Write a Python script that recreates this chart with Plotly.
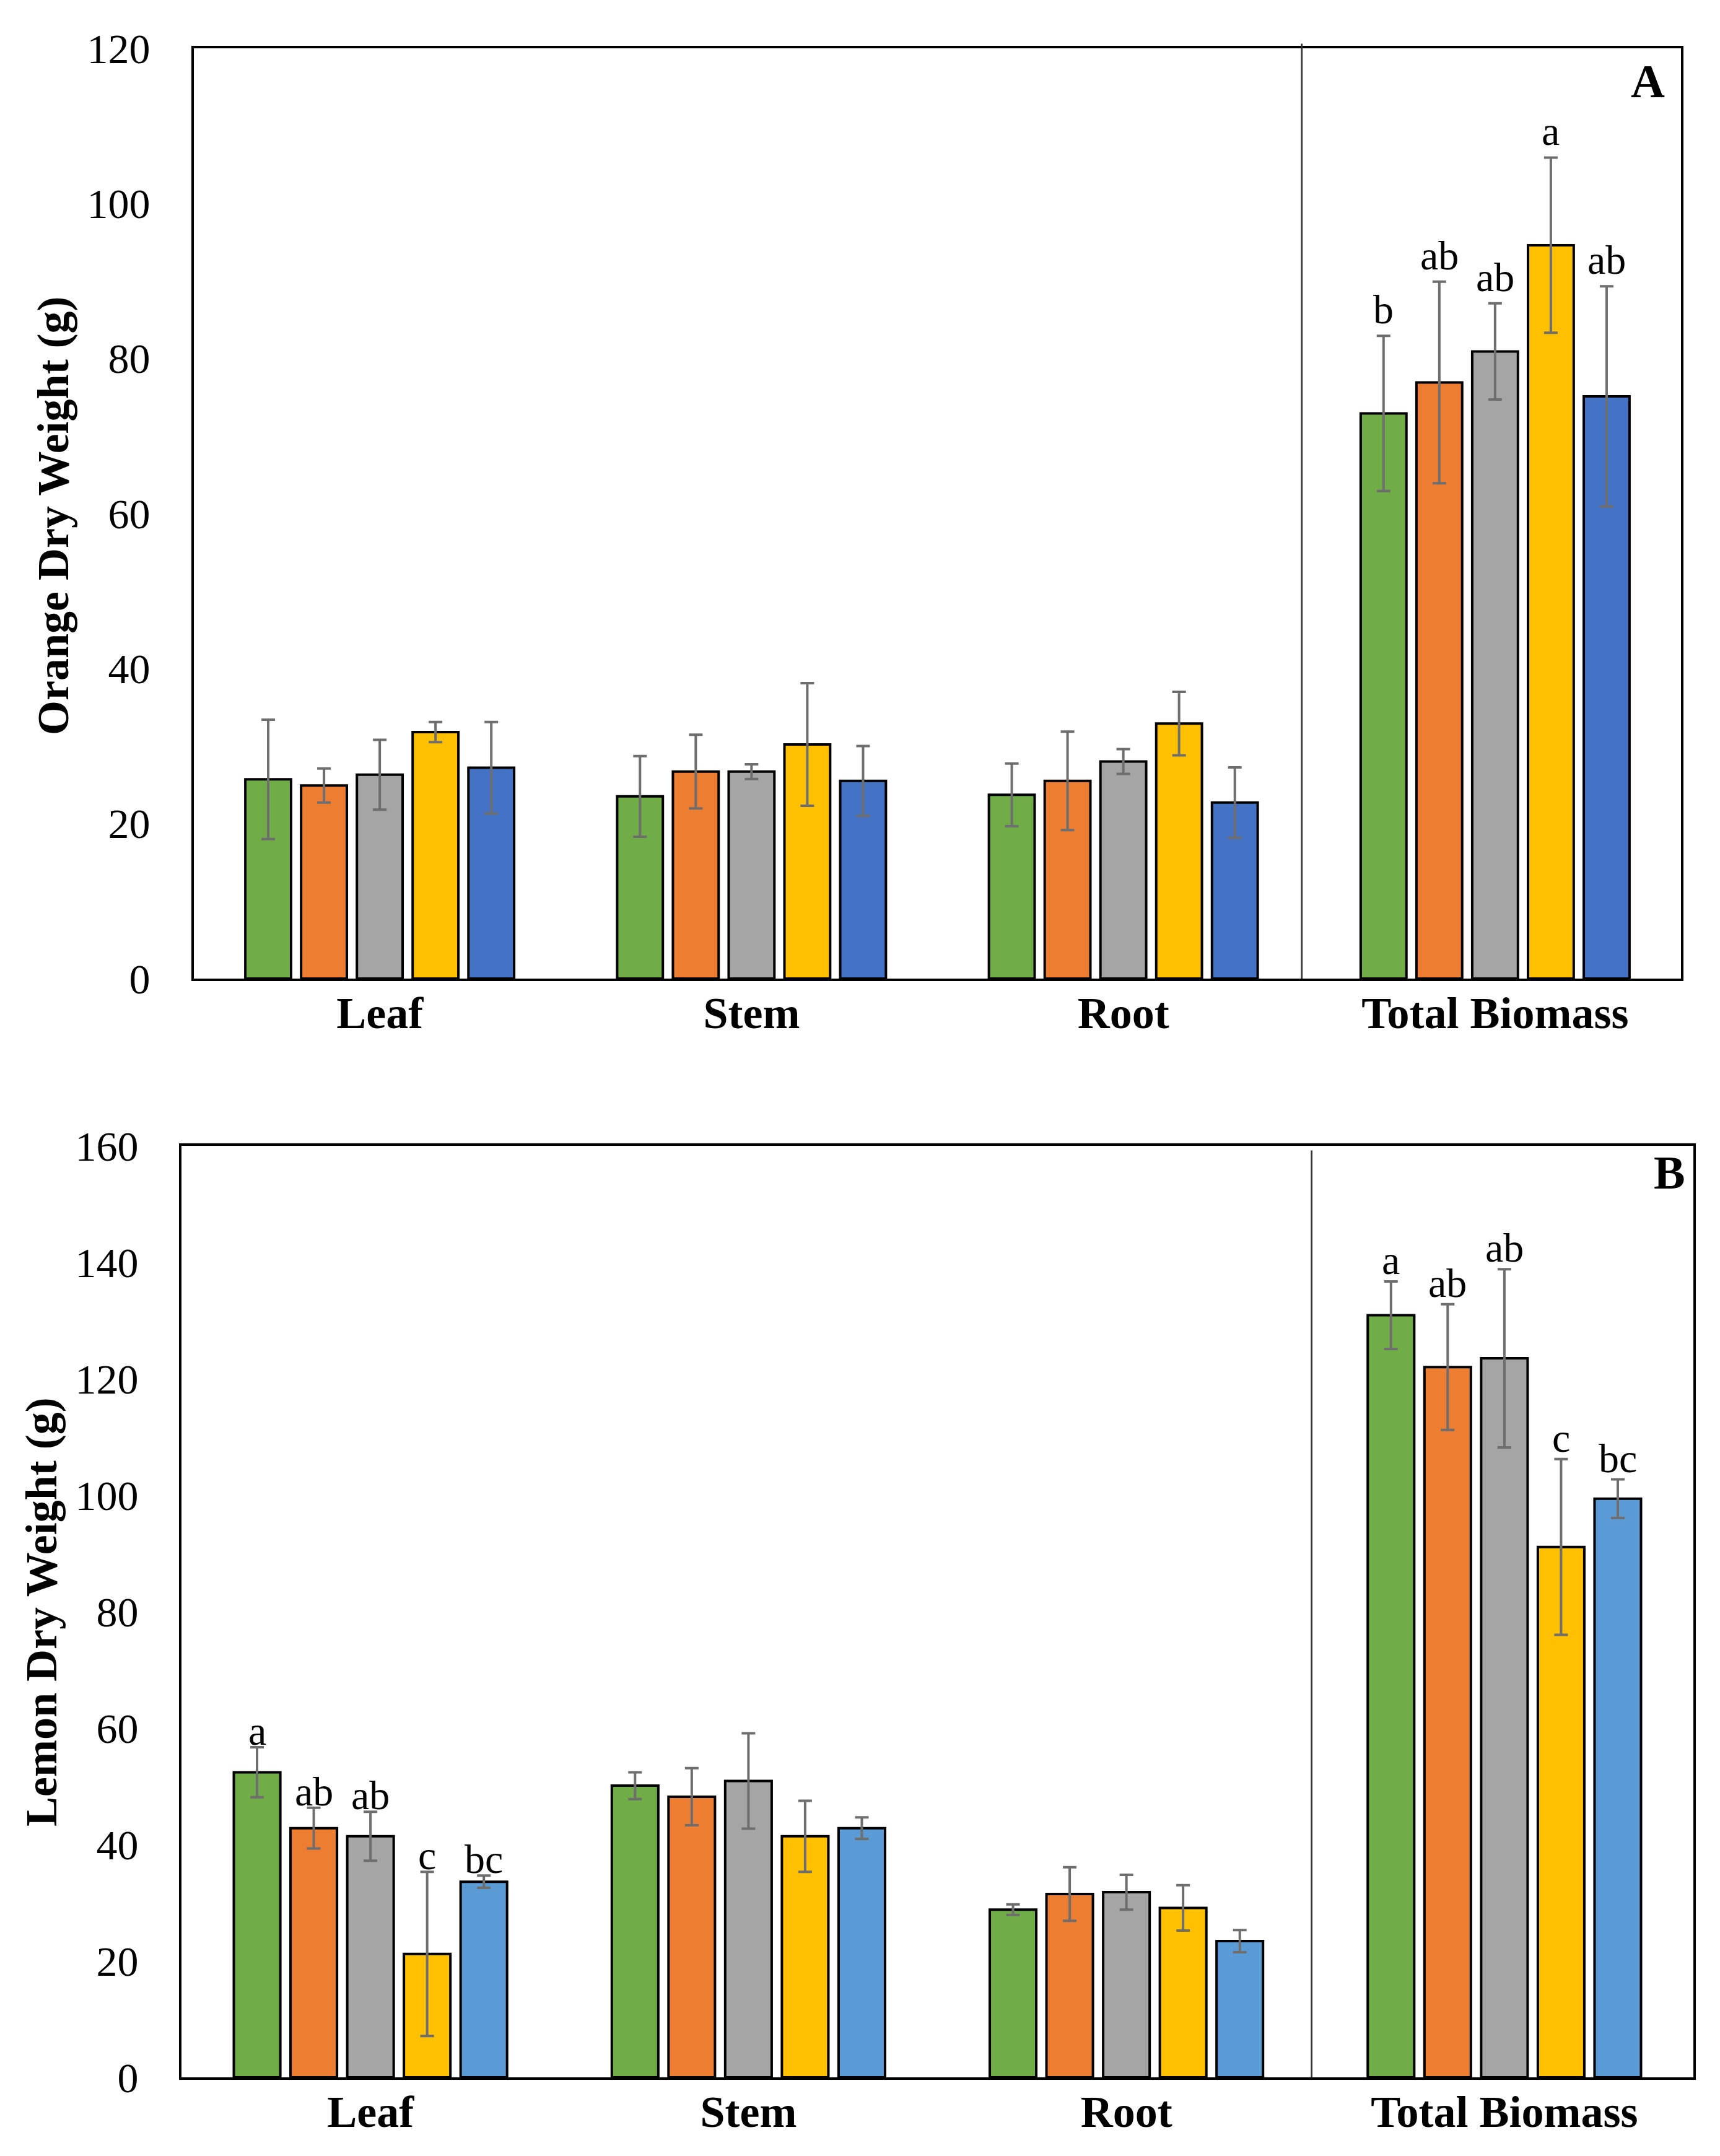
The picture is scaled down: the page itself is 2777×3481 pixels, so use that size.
import plotly.graph_objects as go

# ---------------- data ----------------
categories = ["Leaf", "Stem", "Root", "Total Biomass"]
treatments = ["Treatment 1", "Treatment 2", "Treatment 3", "Treatment 4", "Treatment 5"]

# Panel A: Orange dry weight (g)
orange_t1 = [25.7, 23.5, 23.7, 72.9]
orange_t2 = [24.9, 26.7, 25.5, 76.9]
orange_t3 = [26.3, 26.7, 28.0, 80.9]
orange_t4 = [31.8, 30.2, 32.9, 94.6]
orange_t5 = [27.2, 25.5, 22.7, 75.1]
orange_t1_err = [7.7, 5.2, 4.05, 10.0]
orange_t2_err = [2.2, 4.75, 6.35, 13.0]
orange_t3_err = [4.5, 0.95, 1.6, 6.2]
orange_t4_err = [1.3, 7.9, 4.1, 11.3]
orange_t5_err = [5.9, 4.5, 4.55, 14.2]
orange_letters_total = ["b", "ab", "ab", "a", "ab"]

# Panel B: Lemon dry weight (g)
lemon_t1 = [52.4, 50.1, 28.8, 130.9]
lemon_t2 = [42.8, 48.2, 31.5, 122.0]
lemon_t3 = [41.4, 50.9, 31.8, 123.5]
lemon_t4 = [21.2, 41.4, 29.1, 91.1]
lemon_t5 = [33.6, 42.8, 23.4, 99.4]
lemon_t1_err = [4.3, 2.3, 0.9, 5.8]
lemon_t2_err = [3.5, 4.9, 4.6, 10.8]
lemon_t3_err = [4.2, 8.2, 3.0, 15.3]
lemon_t4_err = [14.1, 6.1, 3.9, 15.1]
lemon_t5_err = [1.05, 1.85, 1.9, 3.3]
lemon_letters_leaf = ["a", "ab", "ab", "c", "bc"]
lemon_letters_total = ["a", "ab", "ab", "c", "bc"]

# ---------------- styles / layout geometry ----------------
PAGE_W, PAGE_H = 2777, 3481
BODY = 8                       # default html body margin
W, H = PAGE_W - 2 * BODY, PAGE_H - 2 * BODY

def px(X):   # page x (px) -> paper fraction
    return (X - BODY) / W

def py(Y):   # page y from top (px) -> paper fraction
    return 1 - (Y - BODY) / H

colors_a = ["#70AD47", "#ED7D31", "#A5A5A5", "#FFC000", "#4472C4"]
colors_b = ["#70AD47", "#ED7D31", "#A5A5A5", "#FFC000", "#5B9BD5"]
FONT = "Liberation Serif"
BARGAP = 0.25
BARGROUPGAP = 0.18
ERR_COLOR = "#6E6E6E"

fig = go.Figure()

def add_panel(vals, errs, colors, xa, ya):
    for name, v, e, c in zip(treatments, vals, errs, colors):
        fig.add_trace(go.Bar(
            x=categories, y=v, name=name, xaxis=xa, yaxis=ya,
            marker=dict(color=c, line=dict(color="black", width=4)),
            error_y=dict(type="data", array=e, visible=True, color=ERR_COLOR,
                         thickness=4, width=11),
            showlegend=False,
        ))

o_vals = [orange_t1, orange_t2, orange_t3, orange_t4, orange_t5]
o_errs = [orange_t1_err, orange_t2_err, orange_t3_err, orange_t4_err, orange_t5_err]
l_vals = [lemon_t1, lemon_t2, lemon_t3, lemon_t4, lemon_t5]
l_errs = [lemon_t1_err, lemon_t2_err, lemon_t3_err, lemon_t4_err, lemon_t5_err]

add_panel(o_vals, o_errs, colors_a, "x", "y")
add_panel(l_vals, l_errs, colors_b, "x2", "y2")

# significance letters
slot = (1 - BARGAP) / len(treatments)
offsets = [(i - (len(treatments) - 1) / 2) * slot for i in range(len(treatments))]

def add_letters(letters, cat_idx, vals, errs, xref, yref, yshift):
    for i, lt in enumerate(letters):
        top = vals[i][cat_idx] + errs[i][cat_idx]
        fig.add_annotation(x=cat_idx + offsets[i], y=top, xref=xref, yref=yref,
                           text=lt, showarrow=False, yanchor="bottom", xanchor="center",
                           yshift=yshift, font=dict(family=FONT, size=66, color="black"))

add_letters(orange_letters_total, 3, o_vals, o_errs, "x", "y", 4)
add_letters(lemon_letters_leaf, 0, l_vals, l_errs, "x2", "y2", -12)
add_letters(lemon_letters_total, 3, l_vals, l_errs, "x2", "y2", -4)

# panel letters
fig.add_annotation(x=px(2660), y=py(131), xref="paper", yref="paper", text="<b>A</b>",
                   showarrow=False, xanchor="center", yanchor="middle",
                   font=dict(family=FONT, size=76, color="black"))
fig.add_annotation(x=px(2695), y=py(1893), xref="paper", yref="paper", text="<b>B</b>",
                   showarrow=False, xanchor="center", yanchor="middle",
                   font=dict(family=FONT, size=76, color="black"))

# y-axis titles
fig.add_annotation(x=px(86), y=py(833), xref="paper", yref="paper",
                   text="<b>Orange Dry Weight (g)</b>", textangle=-90, showarrow=False,
                   xanchor="center", yanchor="middle",
                   font=dict(family=FONT, size=72, color="black"))
fig.add_annotation(x=px(67), y=py(2603), xref="paper", yref="paper",
                   text="<b>Lemon Dry Weight (g)</b>", textangle=-90, showarrow=False,
                   xanchor="center", yanchor="middle",
                   font=dict(family=FONT, size=72, color="black"))

# divider lines between plant parts and total biomass
fig.add_shape(type="line", xref="x", yref="y domain", x0=2.48, x1=2.48, y0=0, y1=1.005,
              line=dict(color="#333333", width=2.7))
fig.add_shape(type="line", xref="x2", yref="y2 domain", x0=2.49, x1=2.49, y0=0, y1=0.995,
              line=dict(color="#333333", width=2.7))

xaxis_common = dict(type="category", showline=True, linecolor="black", linewidth=4,
                    mirror=True, ticks="", showgrid=False, zeroline=False, automargin=False,
                    tickfont=dict(family=FONT, size=72, color="black"),
                    ticklabelstandoff=-10)
yaxis_common = dict(showline=True, linecolor="black", linewidth=4, mirror=True,
                    ticks="", showgrid=False, zeroline=False, dtick=20, automargin=False,
                    tickfont=dict(family=FONT, size=68, color="black"))

ticktext = ["<b>" + c + "</b>" for c in categories]

fig.update_layout(
    width=W, height=H,
    margin=dict(l=0, r=0, t=0, b=0, pad=0),
    paper_bgcolor="white", plot_bgcolor="white",
    barmode="group", bargap=BARGAP, bargroupgap=BARGROUPGAP,
    showlegend=False,
    xaxis=dict(domain=[px(313), px(2714)], anchor="y",
               tickvals=categories, ticktext=ticktext, **xaxis_common),
    yaxis=dict(domain=[py(1580), py(78)], anchor="x", range=[0, 120],
               ticklabelstandoff=53, **yaxis_common),
    xaxis2=dict(domain=[px(293), px(2734)], anchor="y2",
                tickvals=categories, ticktext=ticktext, **xaxis_common),
    yaxis2=dict(domain=[py(3354), py(1850)], anchor="x2", range=[0, 160],
                ticklabelstandoff=52, **yaxis_common),
)

fig.write_html("out.html")
